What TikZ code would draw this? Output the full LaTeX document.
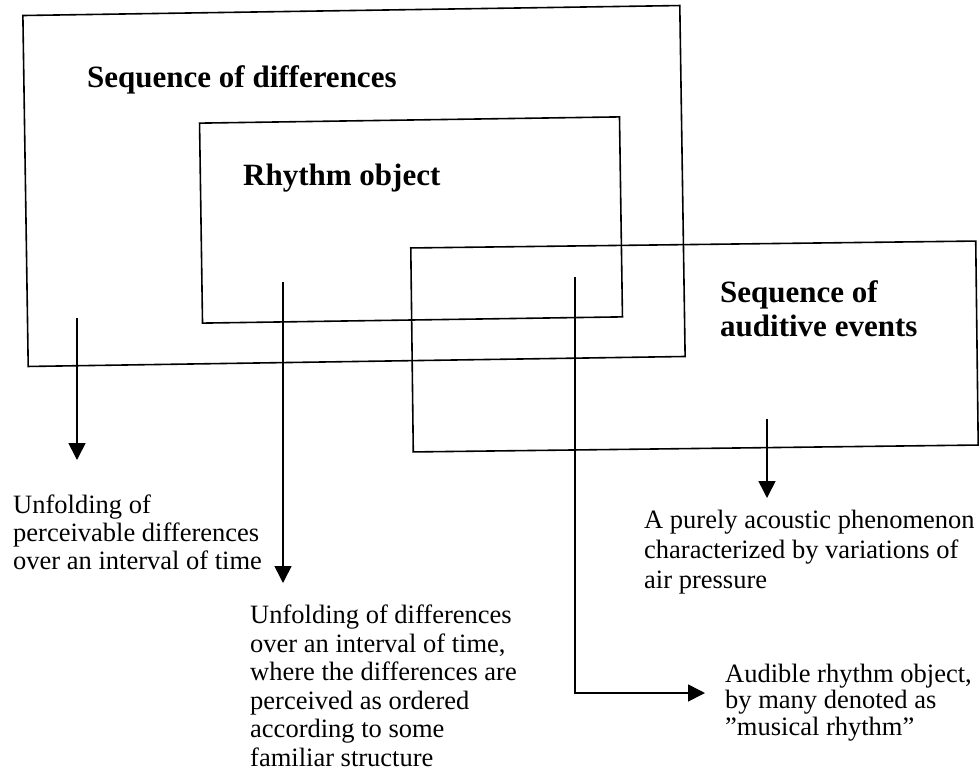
\documentclass[tikz,border=0pt]{standalone}
\usepackage{fontspec}
\setmainfont{Liberation Serif}
\usetikzlibrary{arrows.meta}
\begin{document}
\begin{tikzpicture}[x=1pt,y=-1pt,
  frame/.style={draw, line width=1.6pt, inner sep=0pt, outer sep=0pt},
  head/.style={font=\fontsize{31}{34}\selectfont\bfseries, inner sep=0pt, anchor=base west, align=left},
  note/.style={font=\fontsize{26.5}{28}\selectfont, inner sep=0pt, anchor=base west, align=left},
  link/.style={line width=1.6pt, -{Triangle[width=17pt,length=17pt]}},
]
\useasboundingbox (0,0) rectangle (979,781);

% the three overlapping frames
\node[frame, minimum width=657pt, minimum height=351pt, rotate=0.87] (diff) at (354,186) {};
\node[frame, minimum width=420pt, minimum height=200pt, rotate=0.85] (rhythm) at (411,220) {};
\node[frame, minimum width=565pt, minimum height=204pt, rotate=0.7] (audit) at (694.5,346.5) {};

% frame titles (multi-line nodes are placed by the baseline of their last line)
\node[head] (tdiff) at (87,88) {Sequence of differences};
\node[head] (trhythm) at (243,185) {Rhythm object};
\node[head] (taudit) at (720,336) {Sequence of\\auditive events};

% explanations
\node[note] (ediff) at (13,569) {Unfolding of\\perceivable differences\\over an interval of time};
\node[note, font=\fontsize{26.5}{28.5}\selectfont] (erhythm) at (250,766) {Unfolding of differences\\over an interval of time,\\where the differences are\\perceived as ordered\\according to some\\familiar structure};
\node[note, font=\fontsize{26.5}{30}\selectfont] (eaudit) at (644,588) {A purely acoustic phenomenon\\characterized by variations of\\air pressure};
\node[note, font=\fontsize{26.5}{26.5}\selectfont] (emusic) at (725,735) {Audible rhythm object,\\by many denoted as\\"musical rhythm"};

% arrow ends
\coordinate (s1) at (77,318);  \coordinate (e1) at (77,460);
\coordinate (s2) at (283,282); \coordinate (e2) at (283,583);
\coordinate (s3) at (575,277); \coordinate (e3) at (705,693);
\coordinate (s4) at (767,419); \coordinate (e4) at (767,498);

\draw[link] (s1) -- (e1);
\draw[link] (s2) -- (e2);
\draw[link] (s3) |- (e3);
\draw[link] (s4) -- (e4);
\end{tikzpicture}
\end{document}
